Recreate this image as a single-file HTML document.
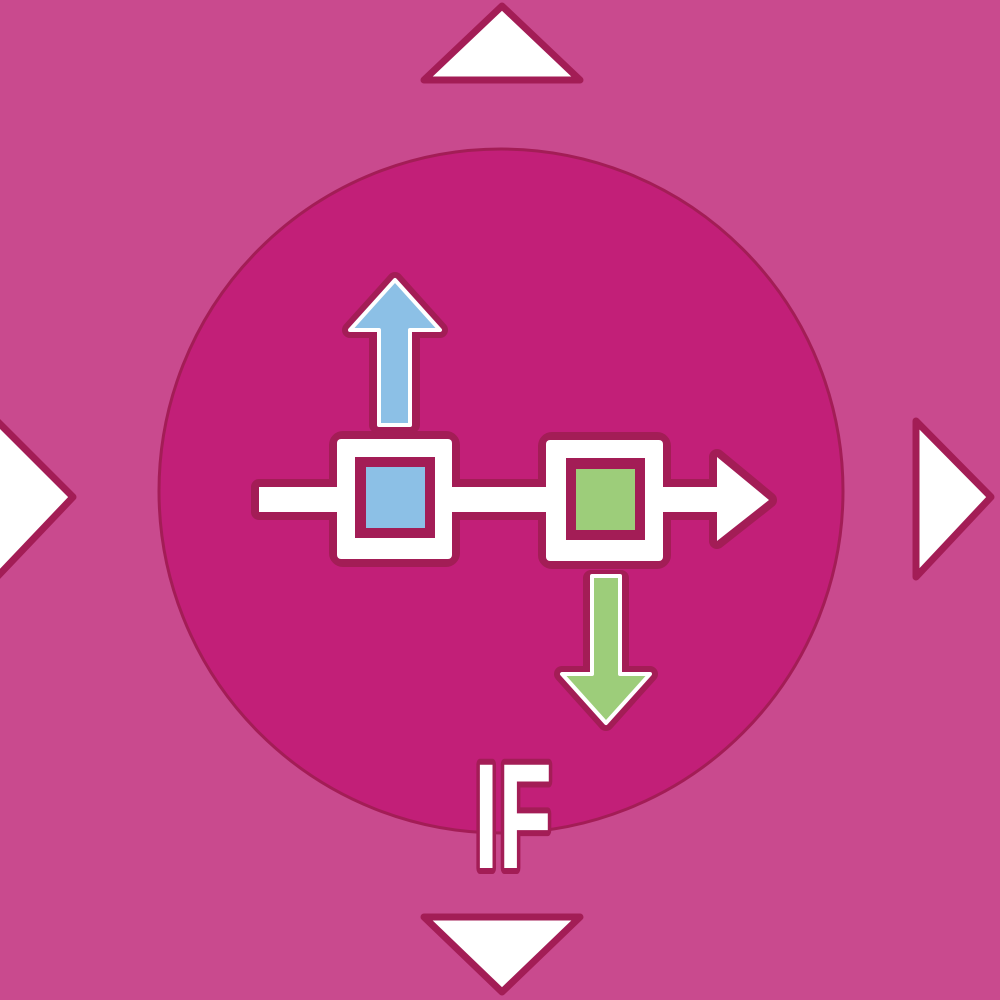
<!DOCTYPE html>
<html><head><meta charset="utf-8"><style>html,body{margin:0;padding:0;background:#C94A8E}svg{display:block}</style></head>
<body>
<svg width="1000" height="1000" viewBox="0 0 1000 1000">
<rect width="1000" height="1000" fill="#C94A8E"/>
<g fill="#fff" stroke="#A31D56" stroke-width="7" stroke-linejoin="round">
<polygon points="424,80 502,6 580,80"/>
<polygon points="424,917 502,992 580,917"/>
<polygon points="-4,420 73,497 -4,578"/>
<polygon points="916,421 991,497 916,577"/>
</g>
<circle cx="501" cy="491" r="342" fill="#C21F78" stroke="#A31D56" stroke-width="3"/>
<g stroke="#A31D56" stroke-width="16" stroke-linejoin="round" fill="#A31D56">
<rect x="259" y="487" width="80" height="25"/>
<rect x="450" y="487" width="100" height="25"/>
<polygon points="660,487 717,487 717,457 769,500 717,541 717,512 660,512"/>
<rect x="337" y="439" width="115" height="120" rx="6"/>
<rect x="546" y="440" width="117" height="121" rx="6"/>
<polygon points="377,425 377,330 350,330 395,280 440,330 412,330 412,425"/>
<polygon points="591,578 621,578 621,674 650,674 606,723 562,674 591,674"/>
</g>
<g fill="#fff">
<rect x="259" y="487" width="80" height="25"/>
<rect x="450" y="487" width="100" height="25"/>
<polygon points="660,487 717,487 717,457 769,500 717,541 717,512 660,512"/>
<rect x="337" y="439" width="115" height="120" rx="4"/>
<rect x="546" y="440" width="117" height="121" rx="4"/>
</g>
<rect x="355" y="457" width="80" height="81" fill="#A31D56"/>
<rect x="366" y="467" width="59" height="61" fill="#8CC0E6"/>
<rect x="566" y="458" width="79" height="82" fill="#A31D56"/>
<rect x="576" y="469" width="59" height="61" fill="#9DCD7A"/>
<polygon points="379,425 379,330 350,330 395,280 440,330 410,330 410,425" fill="#8CC0E6" stroke="#fff" stroke-width="4" stroke-linejoin="round"/>
<polygon points="592,576 620,576 620,674 650,674 606,723 562,674 592,674" fill="#9DCD7A" stroke="#fff" stroke-width="4" stroke-linejoin="round"/>
<text x="474" y="868" font-family="Liberation Sans Narrow, Liberation Sans, sans-serif" font-weight="bold" font-size="150" textLength="78" lengthAdjust="spacingAndGlyphs" fill="#fff" stroke="#A31D56" stroke-width="12" stroke-linejoin="round" paint-order="stroke">IF</text>
</svg>
</body></html>
